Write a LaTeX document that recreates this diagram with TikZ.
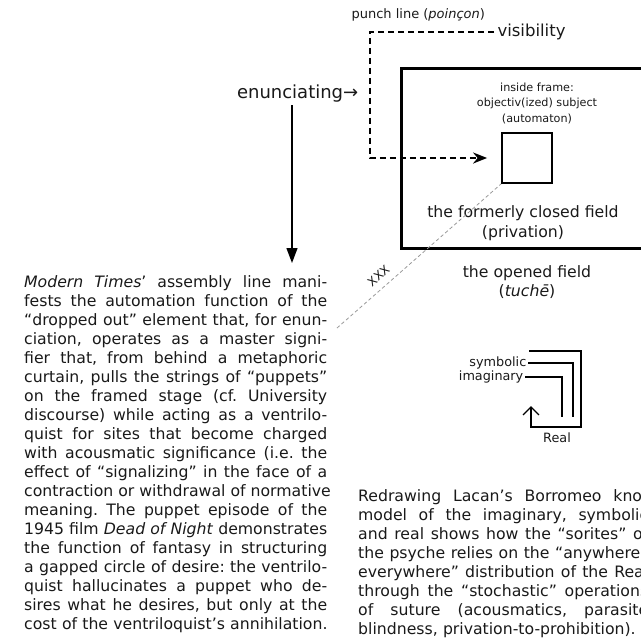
\documentclass[tikz,border=0pt]{standalone}
\usepackage{fontspec}
\setmainfont{DejaVu Sans}
\usetikzlibrary{arrows.meta}

\newdimen\jwidth \jwidth=303pt
\newcommand{\jline}[1]{\hbox to \jwidth{\spaceskip=.318em plus 3em\xspaceskip=\spaceskip #1}}
\newcommand{\lastline}[1]{\hbox to \jwidth{#1\hfil}}
\frenchspacing

\begin{document}
\begin{tikzpicture}[x=1pt,y=-1pt,every node/.style={text=black!90},
    body/.style={inner sep=0pt,text width=\jwidth,anchor=north west,font=\fontsize{15.7}{19}\selectfont},
    mid/.style={align=center,font=\fontsize{15.7}{19.5}\selectfont},
    small/.style={font=\fontsize{11.2}{15.5}\selectfont},
    frame/.style={draw,line width=3pt,minimum width=252pt,minimum height=180pt},
    autobox/.style={draw,line width=1.8pt,minimum size=50pt,inner sep=0pt},
    punchline/.style={line width=2.2pt,dash pattern=on 6pt off 4pt,-{Stealth[length=14pt,width=11pt]},shorten >=14pt},
    droparrow/.style={line width=1.3pt,-{Triangle[length=15pt,width=11pt]}},
    seam/.style={gray!80,line width=0.8pt,dash pattern=on 3.5pt off 2.5pt},
    knot/.style={line width=1.3pt}]
\useasboundingbox (0,0) rectangle (641,638);

% labels at the top
\node[font=\fontsize{13}{15}\selectfont,anchor=base west] (punch) at (348,18.5) {punch line (\textit{poinçon})};
\node[font=\fontsize{16.5}{18}\selectfont,anchor=base west] (vis) at (494,36.5) {visibility};
\node[font=\fontsize{18}{20}\selectfont,anchor=base west] (enun) at (233.5,98) {enunciating→};

% the frame and the automaton
\node[frame] (field) at (527,158) {};
\node[autobox] (auto) at (527,158) {};
\node[small,align=center] (inside) at (537,103) {inside frame:\\objectiv(ized) subject\\(automaton)};
\node[mid] (closed) at (523,223) {the formerly closed field\\(privation)};
\node[mid] (opened) at (527,282) {the opened field\\(\textit{tuchē})};

\coordinate (bend) at (370,158);
\draw[punchline] (vis.west) -| (bend) -- (auto.west);

\coordinate (drop) at (292,263);
\draw[droparrow] (enun.south -| drop) -- (drop);

\coordinate (xxx) at (337,328);
\draw[seam] (xxx) -- (auto.south west)
    node[pos=0.3,sloped,above=6pt,inner sep=1pt,font=\fontsize{12}{14}\selectfont] {XXX};

% Borromeo
\node[font=\fontsize{12.8}{15}\selectfont,anchor=east,inner sep=1.5pt] (sym) at (528,363) {symbolic};
\node[font=\fontsize{12.8}{15}\selectfont,anchor=east,inner sep=1.5pt] (ima) at (525,377) {imaginary};
\node[font=\fontsize{12.8}{15}\selectfont] (real) at (557,438) {Real};
\coordinate (rstart) at (529,351);
\coordinate (rend) at (531,406);
\draw[knot] (sym.east) -- (573,363) -- (573,417);
\draw[knot] (ima.east) -- (562,377) -- (562,417);
\draw[knot,-{Straight Barb[length=8pt,width=16pt]}] (rstart) -- (581,351) -- (581,427) -- (531,427) -- (rend);

% the two captions
\node[body] (times) at (24,275.5) {%
\jline{\textit{Modern Times}’ assembly line mani-}
\jline{fests the automation function of the}
\jline{“dropped out” element that, for enun-}
\jline{ciation, operates as a master signi-}
\jline{fier that, from behind a metaphoric}
\jline{curtain, pulls the strings of “puppets”}
\jline{on the framed stage (cf. University}
\jline{discourse) while acting as a ventrilo-}
\jline{quist for sites that become charged}
\jline{with acousmatic significance (i.e. the}
\jline{effect of “signalizing” in the face of a}
\jline{contraction or withdrawal of normative}
\jline{meaning. The puppet episode of the}
\jline{1945 film \textit{Dead of Night} demonstrates}
\jline{the function of fantasy in structuring}
\jline{a gapped circle of desire: the ventrilo-}
\jline{quist hallucinates a puppet who de-}
\jline{sires what he desires, but only at the}
\lastline{cost of the ventriloquist’s annihilation.}};

\node[body,text width=290pt] (knotnote) at (358,489.5) {\jwidth=290pt
\jline{Redrawing Lacan’s Borromeo knot}
\jline{model of the imaginary, symbolic}
\jline{and real shows how the “sorites” of}
\jline{the psyche relies on the “anywhere–}
\jline{everywhere” distribution of the Real}
\jline{through the “stochastic” operations}
\jline{of suture (acousmatics, parasite}
\lastline{blindness, privation-to-prohibition).}};
\end{tikzpicture}
\end{document}
